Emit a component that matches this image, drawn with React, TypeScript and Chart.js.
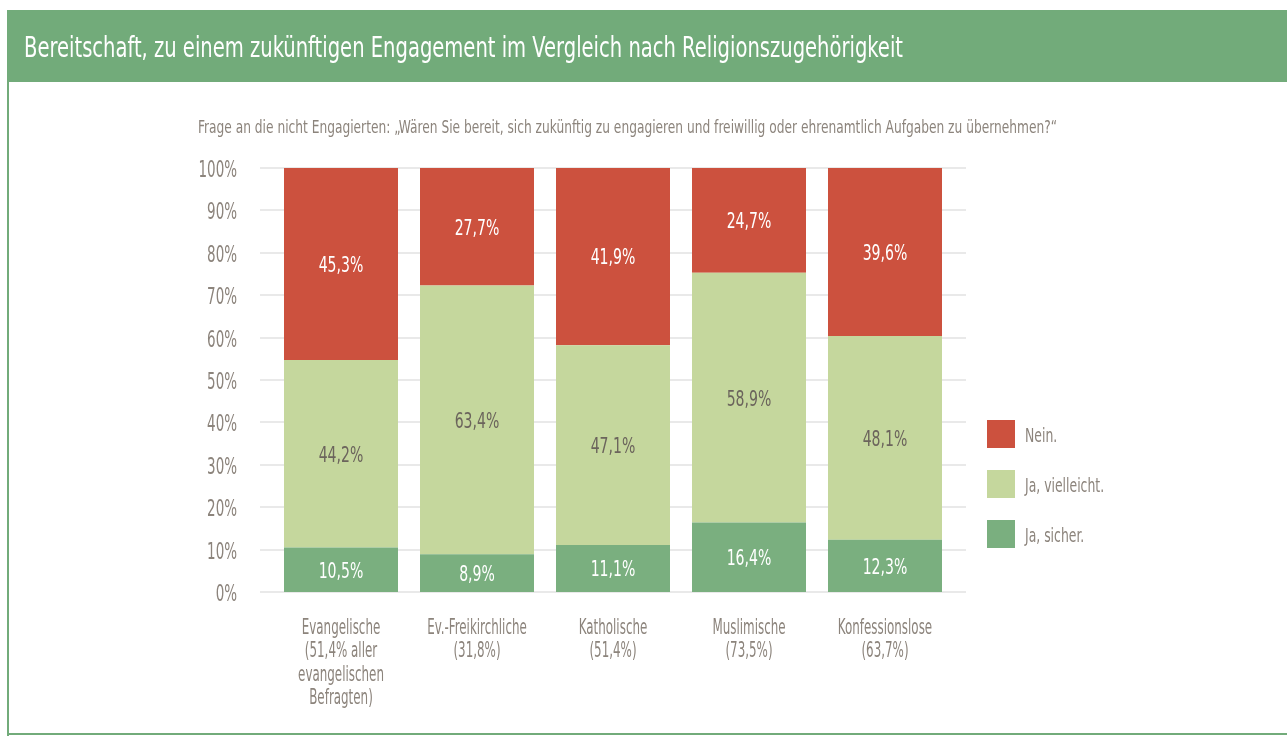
import React, { useEffect, useRef } from "react";
import { Chart, registerables } from "chart.js";

Chart.register(...registerables);

const categories: string[][] = [
  ["Evangelische", "(51,4% aller", "evangelischen", "Befragten)"],
  ["Ev.-Freikirchliche", "(31,8%)"],
  ["Katholische", "(51,4%)"],
  ["Muslimische", "(73,5%)"],
  ["Konfessionslose", "(63,7%)"],
];
const jaSicher = [10.5, 8.9, 11.1, 16.4, 12.3];
const jaVielleicht = [44.2, 63.4, 47.1, 58.9, 48.1];
const nein = [45.3, 27.7, 41.9, 24.7, 39.6];
const yTicks = [0, 10, 20, 30, 40, 50, 60, 70, 80, 90, 100];
const legendLabels = ["Nein.", "Ja, vielleicht.", "Ja, sicher."];

const TITLE = "Bereitschaft, zu einem zukünftigen Engagement im Vergleich nach Religionszugehörigkeit";
const SUBTITLE =
  "Frage an die nicht Engagierten: \u201EWären Sie bereit, sich zukünftig zu engagieren und freiwillig oder ehrenamtlich Aufgaben zu übernehmen?\u201C";

const FONT = "'DejaVu Sans Condensed', 'DejaVu Sans', sans-serif";
const GRAY = "#8c847c";
const RED = "#cc513e";
const LIGHT = "#c5d79d";
const GREEN = "#7aaf7f";
const HEADER = "#72ab7a";

function drawText(
  ctx: CanvasRenderingContext2D,
  text: string,
  x: number,
  y: number,
  size: number,
  sx: number,
  align: "left" | "center" | "right",
  color: string
) {
  ctx.save();
  ctx.font = `${size}px ${FONT}`;
  ctx.fillStyle = color;
  ctx.textBaseline = "alphabetic";
  ctx.textAlign = "left";
  const w = ctx.measureText(text).width * sx;
  let x0 = x;
  if (align === "center") x0 = x - w / 2;
  if (align === "right") x0 = x - w;
  ctx.translate(x0, y);
  ctx.scale(sx, 1);
  ctx.fillText(text, 0, 0);
  ctx.restore();
}

function fitScale(ctx: CanvasRenderingContext2D, text: string, size: number, target: number) {
  ctx.save();
  ctx.font = `${size}px ${FONT}`;
  const w = ctx.measureText(text).width;
  ctx.restore();
  return target / w;
}

export default function App() {
  const ref = useRef<HTMLCanvasElement | null>(null);

  useEffect(() => {
    if (!ref.current) return;

    const framePlugin = {
      id: "frame",
      beforeDraw(chart: any) {
        const { ctx } = chart;
        ctx.save();
        ctx.fillStyle = "#ffffff";
        ctx.fillRect(0, 0, 1287, 736);
        ctx.fillStyle = HEADER;
        ctx.fillRect(7, 10, 1280, 72);
        ctx.fillRect(7, 10, 2, 726);
        ctx.fillRect(7, 733, 1280, 2);
        ctx.restore();
        drawText(ctx, TITLE, 24, 57, 28, fitScale(ctx, TITLE, 28, 879), "left", "#ffffff");
        drawText(ctx, SUBTITLE, 198, 133, 17.5, fitScale(ctx, SUBTITLE, 17.5, 859), "left", GRAY);
      },
    };

    const gridPlugin = {
      id: "extGrid",
      beforeDatasetsDraw(chart: any) {
        const { ctx, chartArea, scales } = chart;
        ctx.save();
        ctx.strokeStyle = "#e9e9e9";
        ctx.lineWidth = 2;
        scales.y.ticks.forEach((t: any) => {
          const y = Math.round(scales.y.getPixelForValue(t.value));
          ctx.beginPath();
          ctx.moveTo(chartArea.left - 13, y);
          ctx.lineTo(chartArea.right + 13, y);
          ctx.stroke();
          drawText(ctx, t.value + "%", chartArea.left - 36, y + 8.5, 23, 0.65, "right", GRAY);
        });
        ctx.restore();
        const xs = scales.x;
        xs.getLabels().forEach((lab: string[], i: number) => {
          const cx = xs.getPixelForValue(i);
          lab.forEach((line: string, k: number) => {
            drawText(ctx, line, cx, 634 + k * 23.4, 21, 0.63, "center", GRAY);
          });
        });
      },
    };

    const labelPlugin = {
      id: "segLabels",
      afterDatasetsDraw(chart: any) {
        const { ctx } = chart;
        chart.data.datasets.forEach((ds: any, di: number) => {
          const meta = chart.getDatasetMeta(di);
          meta.data.forEach((bar: any, i: number) => {
            const v = ds.data[i];
            const y = (bar.y + bar.base) / 2;
            drawText(ctx, v.toFixed(1).replace(".", ",") + "%", bar.x, y + 8, 22, 0.71, "center", ds.labelColor);
          });
        });
      },
    };

    const legendPlugin = {
      id: "customLegend",
      afterDraw(chart: any) {
        const { ctx, chartArea } = chart;
        const x0 = chartArea.right + 34;
        const order = [2, 1, 0];
        order.forEach((di, k) => {
          const ds = chart.data.datasets[di];
          const y = 420 + k * 50;
          ctx.save();
          ctx.fillStyle = ds.backgroundColor;
          ctx.fillRect(x0, y, 28, 28);
          ctx.restore();
          drawText(ctx, ds.label, x0 + 38, y + 22, 20, 0.69, "left", GRAY);
        });
      },
    };

    const chart = new Chart(ref.current, {
      type: "bar",
      data: {
        labels: categories,
        datasets: [
          { label: legendLabels[2], data: jaSicher, backgroundColor: GREEN, labelColor: "#ffffff" } as any,
          { label: legendLabels[1], data: jaVielleicht, backgroundColor: LIGHT, labelColor: "#6b645c" } as any,
          { label: legendLabels[0], data: nein, backgroundColor: RED, labelColor: "#ffffff" } as any,
        ],
      },
      options: {
        animation: false,
        responsive: false,
        maintainAspectRatio: false,
        layout: { padding: { left: 193, right: 334, top: 168, bottom: 0 } },
        datasets: { bar: { barPercentage: 114 / 136, categoryPercentage: 1, borderWidth: 0 } },
        plugins: { legend: { display: false }, tooltip: { enabled: false } },
        scales: {
          x: {
            stacked: true,
            offset: true,
            grid: { display: false, drawTicks: false },
            border: { display: false },
            ticks: { display: false, autoSkip: false },
            afterFit(scale: any) {
              scale.height = 144;
            },
          },
          y: {
            stacked: true,
            min: 0,
            max: 100,
            grid: { display: false, drawTicks: false },
            border: { display: false },
            afterBuildTicks(scale: any) {
              scale.ticks = yTicks.map((v) => ({ value: v }));
            },
            ticks: { display: false },
            afterFit(scale: any) {
              scale.width = 80;
            },
          },
        },
      },
      plugins: [framePlugin, gridPlugin, labelPlugin, legendPlugin],
    });
    return () => chart.destroy();
  }, []);

  return (
    <div style={{ position: "fixed", left: 0, top: 0, width: 1287, height: 736, background: "#fff", overflow: "hidden" }}>
      <canvas ref={ref} width={1287} height={736} style={{ position: "absolute", left: 0, top: 0, width: 1287, height: 736 }} />
    </div>
  );
}
